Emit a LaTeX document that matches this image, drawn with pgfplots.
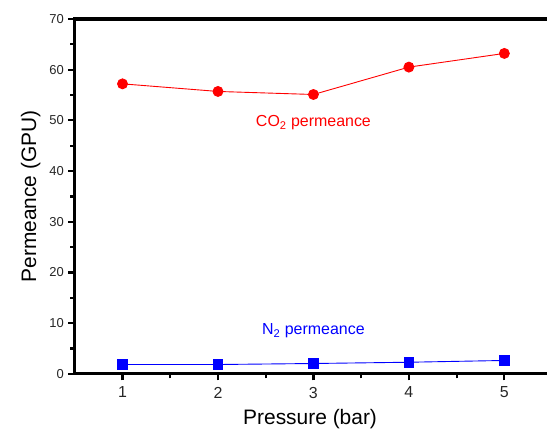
\documentclass[border=0pt]{standalone}
\usepackage{fontspec}
\setmainfont{Liberation Sans}
\usepackage{pgfplots}
\pgfplotsset{compat=1.18}

\newcommand{\xt}[1]{\fontsize{16}{18}\selectfont #1}
\newcommand{\yt}[1]{\fontsize{13}{15}\selectfont #1}

\begin{document}
\begin{tikzpicture}
\begin{axis}[
    scale only axis,
    width=472pt,
    height=356pt,
    xmin=0.5, xmax=5.43,
    ymin=0, ymax=70,
    axis line style={draw=none},
    xtick={1,2,3,4,5},
    xticklabels={\xt{1},\xt{2},\xt{3},\xt{4},\xt{5}},
    minor xtick={1.5,2.5,3.5,4.5},
    ytick={0,10,20,30,40,50,60,70},
    yticklabels={\yt{0},\yt{10},\yt{20},\yt{30},\yt{40},\yt{50},\yt{60},\yt{70}},
    minor ytick={5,15,...,65},
    xtick pos=bottom,
    ytick pos=left,
    tick align=outside,
    major tick length=6.5pt,
    minor tick length=4.5pt,
    every tick/.style={line width=2.2pt, black},
    every minor tick/.style={line width=2.2pt, black},
    xticklabel style={yshift=-3pt, text=black!85},
    yticklabel style={xshift=-1pt, text=black!85},
    xlabel={Pressure (bar)},
    ylabel={Permeance (GPU)},
    label style={font=\fontsize{21}{24}\selectfont},
    xlabel style={yshift=-4pt},
    ylabel style={yshift=2pt},
    clip=false,
]
\path (rel axis cs:0,0) ++(-75pt,-64pt) (rel axis cs:1,1) ++(0,19pt);
\draw[black, line width=3.2pt, line cap=rect] (rel axis cs:1,0) -- (rel axis cs:0,0) -- (rel axis cs:0,1) -- (rel axis cs:1,1);
\addplot[draw=red, line width=0.9pt, mark=*, mark size=5pt, mark options={draw=red, fill=red}] coordinates {
    (1,57.2) (2,55.7) (3,55.1) (4,60.5) (5,63.2)
};
\addplot[draw=blue, line width=0.9pt, mark=square*, mark size=4.8pt, mark options={draw=blue, fill=blue}] coordinates {
    (1,1.85) (2,1.85) (3,2.05) (4,2.3) (5,2.65)
};
\node[red, font=\fontsize{16}{18}\selectfont] at (axis cs:3,49.5) {CO\textsubscript{2} permeance};
\node[blue, font=\fontsize{16}{18}\selectfont] at (axis cs:3,8.5) {N\textsubscript{2} permeance};
\end{axis}
\end{tikzpicture}
\end{document}
